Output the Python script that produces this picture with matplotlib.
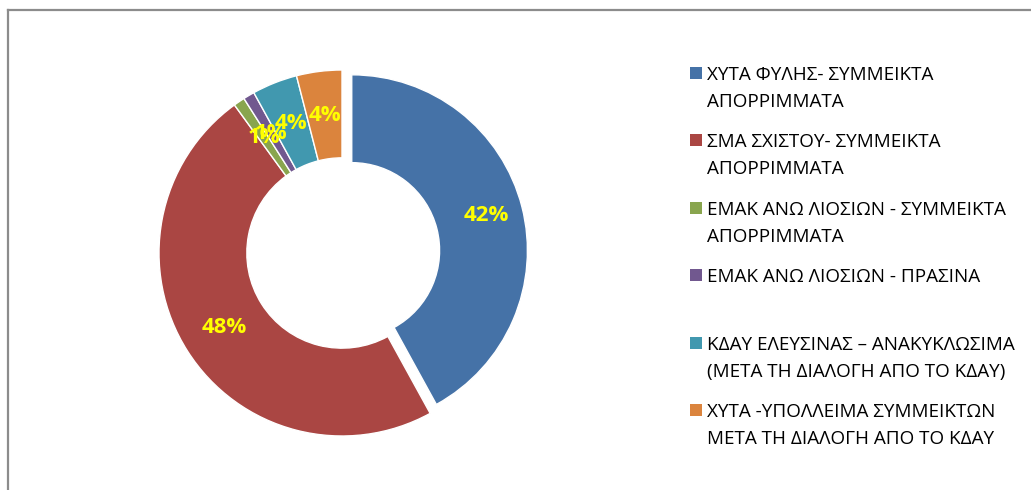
import matplotlib
matplotlib.use("Agg")
import matplotlib.pyplot as plt
from matplotlib.patches import Rectangle
from matplotlib.lines import Line2D

categories = [
    "ΧΥΤΑ ΦΥΛΗΣ- ΣΥΜΜΕΙΚΤΑ\nΑΠΟΡΡΙΜΜΑΤΑ",
    "ΣΜΑ ΣΧΙΣΤΟΥ- ΣΥΜΜΕΙΚΤΑ\nΑΠΟΡΡΙΜΜΑΤΑ",
    "ΕΜΑΚ ΑΝΩ ΛΙΟΣΙΩΝ - ΣΥΜΜΕΙΚΤΑ\nΑΠΟΡΡΙΜΜΑΤΑ",
    "ΕΜΑΚ ΑΝΩ ΛΙΟΣΙΩΝ - ΠΡΑΣΙΝΑ",
    "ΚΔΑΥ ΕΛΕΥΣΙΝΑΣ – ΑΝΑΚΥΚΛΩΣΙΜΑ\n(ΜΕΤΑ ΤΗ ΔΙΑΛΟΓΗ ΑΠΟ ΤΟ ΚΔΑΥ)",
    "ΧΥΤΑ -ΥΠΟΛΛΕΙΜΑ ΣΥΜΜΕΙΚΤΩΝ\nΜΕΤΑ ΤΗ ΔΙΑΛΟΓΗ ΑΠΟ ΤΟ ΚΔΑΥ",
]
shares = [42, 48, 1, 1, 4, 4]
colors = ["#4572A7", "#AA4643", "#89A54E", "#71588F", "#4198AF", "#DB843D"]
explode = [0.055, 0, 0, 0, 0, 0]

W, H = 1031, 490
fam = ["Open Sans", "DejaVu Sans"]
plt.rcParams["font.family"] = fam

fig = plt.figure(figsize=(W / 100, H / 100), dpi=100)

def fx(x):
    return x / W

def fy(y):
    return 1 - y / H

# doughnut axes: centre (342, 253) px, outer radius 183 px
cx, cy, R = 342, 253, 183
pad = 1.1
ax = fig.add_axes([fx(cx - pad * R), fy(cy + pad * R), 2 * pad * R / W, 2 * pad * R / H])
wedges, texts, autotexts = ax.pie(
    shares, colors=colors, explode=explode, startangle=90, counterclock=False,
    autopct="%1.0f%%", pctdistance=0.76,
    wedgeprops=dict(width=0.48, edgecolor="white", linewidth=1),
    textprops=dict(color="#FFFF00", fontsize=16, fontweight="bold"),
)
# the pulled-out slice is drawn a touch smaller in the reference
wedges[0].set_radius(0.96)
ax.set_xlim(-pad, pad)
ax.set_ylim(-pad, pad)
ax.set_aspect("equal")
ax.axis("off")

# legend drawn as Excel does it: fixed slots, marker beside first line
slot0, slot_step, line_step = 73, 67.4, 27
for i, (lab, col) in enumerate(zip(categories, colors)):
    y0 = slot0 + i * slot_step
    fig.add_artist(Rectangle((fx(690), fy(y0 + 6)), 12 / W, 12 / H,
                             transform=fig.transFigure, facecolor=col, edgecolor="none"))
    for j, line in enumerate(lab.split("\n")):
        fig.text(fx(707), fy(y0 + j * line_step), line, fontsize=13.6,
                 color="#000000", va="center_baseline", ha="left")

# chart frame (only top and left edges are visible)
frame = "#8C8C8C"
fig.add_artist(Line2D([fx(8), fx(W - 1)], [fy(10), fy(10)], color=frame, lw=1.6,
                      transform=fig.transFigure))
fig.add_artist(Line2D([fx(8), fx(8)], [fy(10), fy(H + 5)], color=frame, lw=1.6,
                      transform=fig.transFigure))

fig.savefig("out.png", dpi=100)
